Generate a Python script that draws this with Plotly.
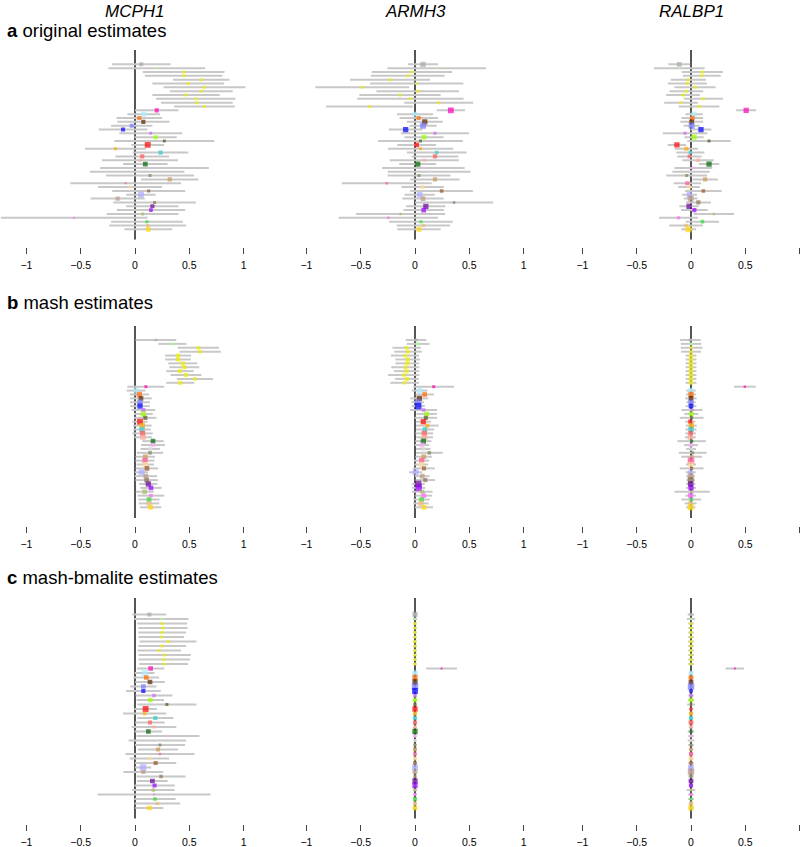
import plotly.graph_objects as go

# ---------------- data ----------------
tissues = [
    "Testis", "Pituitary",
    "Brain_Anterior_cingulate_cortex_BA24", "Brain_Caudate_basal_ganglia",
    "Brain_Cerebellar_Hemisphere", "Brain_Cerebellum", "Brain_Cortex",
    "Brain_Frontal_Cortex_BA9", "Brain_Hippocampus", "Brain_Hypothalamus",
    "Brain_Nucleus_accumbens_basal_ganglia", "Brain_Putamen_basal_ganglia",
    "Whole_Blood", "Cells_Transformed_fibroblasts", "Adipose_Subcutaneous",
    "Esophagus_Mucosa", "Skin_Sun_Exposed_Lower_leg", "Skin_Not_Sun_Exposed_Suprapubic",
    "Cells_EBV-transformed_lymphocytes", "Lung", "Small_Intestine_Terminal_Ileum",
    "Artery_Tibial", "Adipose_Visceral_Omentum", "Breast_Mammary_Tissue",
    "Artery_Aorta", "Artery_Coronary", "Thyroid", "Ovary", "Prostate", "Spleen",
    "Colon_Transverse", "Vagina", "Stomach", "Pancreas", "Muscle_Skeletal",
    "Esophagus_Muscularis", "Esophagus_Gastroesophageal_Junction",
    "Heart_Left_Ventricle", "Heart_Atrial_Appendage", "Liver", "Uterus",
    "Adrenal_Gland", "Colon_Sigmoid", "Nerve_Tibial",
]
tissue_colors = [
    "#AAAAAA", "#AAFF99",
    "#EEEE00", "#EEEE00", "#EEEE00", "#EEEE00", "#EEEE00",
    "#EEEE00", "#EEEE00", "#EEEE00", "#EEEE00", "#EEEE00",
    "#FF00BB", "#AAEEFF", "#FF6600", "#552200", "#7777FF", "#0000FF",
    "#CC66FF", "#99FF00", "#555522", "#FF0000", "#FFAA00", "#33CCCC",
    "#FF5555", "#FFAA99", "#006600", "#FFAAFF", "#DDDDDD", "#778855",
    "#CC9955", "#FF5599", "#FFDD99", "#995522", "#AAAAFF", "#BB9988",
    "#8B7355", "#660099", "#9900FF", "#AABB66", "#FF66FF", "#33DD33",
    "#EEBB77", "#FFD700",
]

genes = ["MCPH1", "ARMH3", "RALBP1"]
panel_letters = ["a", "b", "c"]
panel_titles = ["original estimates", "mash estimates", "mash-bmalite estimates"]
tick_values = [-1, -0.5, 0, 0.5, 1]
tick_labels = ["\u22121", "\u22120.5", "0", "0.5", "1"]

# --- a: original estimates ---
mcph1_orig_est = [0.058, 0.20, 0.448, 0.448, 0.61, 0.49, 0.64, 0.61, 0.47, 0.56, 0.57, 0.64,
                  0.20, 0.08, 0.04, 0.077, -0.03, -0.11, 0.145, 0.19, 0.27, 0.117, -0.18, 0.235,
                  0.067, 0.046, 0.095, 0.18, 0.02, 0.138, 0.32, -0.086, -0.046, 0.126, 0.055, -0.16,
                  0.18, 0.16, 0.147, 0.07, -0.56, 0.11, 0.117, 0.123]
mcph1_orig_ci = [0.27, 0.446, 0.376, 0.357, 0.26, 0.33, 0.377, 0.29, 0.31, 0.365, 0.33, 0.28,
                 0.20, 0.15, 0.21, 0.24, 0.19, 0.225, 0.29, 0.195, 0.46, 0.15, 0.28, 0.256,
                 0.247, 0.35, 0.205, 0.50, 0.435, 0.405, 0.264, 0.51, 0.296, 0.336, 0.135, 0.25,
                 0.38, 0.24, 0.314, 0.33, 0.675, 0.33, 0.354, 0.22]
mcph1_orig_wt = [3, 1, 2, 2, 2, 2, 2, 2, 2, 2, 2, 2,
                 3, 4, 3, 3, 3, 3, 2, 3, 2, 4.5, 2, 3,
                 3, 2, 3.5, 1, 2, 2, 3, 1, 2, 2, 4.5, 3,
                 2, 3, 2.5, 2, 1, 2, 2, 3.5]

armh3_orig_est = [0.074, 0.20, -0.028, -0.067, -0.23, 0.015, -0.485, 0.025, -0.138, -0.043, 0.218, -0.42,
                  0.33, 0.0, 0.034, 0.09, 0.074, -0.086, 0.184, 0.083, 0.05, 0.015, 0.052, 0.20,
                  0.184, 0.086, 0.025, 0.077, 0.13, 0.037, 0.184, -0.26, 0.07, 0.245, 0.043, 0.074,
                  0.36, 0.10, 0.08, -0.132, -0.245, 0.055, 0.077, 0.037]
armh3_orig_ci = [0.138, 0.454, 0.37, 0.34, 0.368, 0.43, 0.432, 0.38, 0.374, 0.49, 0.317, 0.40,
                 0.13, 0.166, 0.176, 0.166, 0.126, 0.155, 0.314, 0.18, 0.39, 0.178, 0.30, 0.275,
                 0.215, 0.318, 0.17, 0.38, 0.38, 0.29, 0.227, 0.414, 0.195, 0.288, 0.138, 0.19,
                 0.36, 0.18, 0.186, 0.41, 0.457, 0.293, 0.245, 0.20]
armh3_orig_wt = [4, 1, 2, 2, 2, 1.5, 2, 2, 2, 2, 2, 2,
                 4.5, 3.5, 3, 4, 4.5, 4, 2, 3.5, 2, 3.5, 2, 2.5,
                 3, 2, 4, 1.5, 2, 2, 3, 1.5, 3, 2.5, 4, 3.5,
                 1.5, 4, 3.5, 1.5, 1.5, 2, 2.5, 3.5]

ralbp1_orig_est = [-0.108, -0.108, 0.105, 0.10, -0.025, -0.034, 0.037, -0.043, -0.074, 0.114, -0.092, 0.074,
                   0.508, 0.028, 0.012, 0.006, 0.006, 0.092, -0.055, 0.028, 0.166, -0.13, -0.043, -0.006,
                   -0.015, 0.065, 0.166, 0.022, 0.0, -0.04, 0.13, -0.034, -0.018, 0.114, -0.015, -0.003,
                   0.068, -0.018, 0.031, 0.21, -0.114, 0.105, -0.046, -0.022]
ralbp1_orig_ci = [0.10, 0.234, 0.19, 0.174, 0.162, 0.18, 0.19, 0.155, 0.155, 0.18, 0.155, 0.188,
                  0.092, 0.079, 0.10, 0.105, 0.074, 0.095, 0.205, 0.088, 0.20, 0.085, 0.106, 0.13,
                  0.112, 0.145, 0.094, 0.174, 0.172, 0.188, 0.117, 0.126, 0.10, 0.168, 0.069, 0.063,
                  0.114, 0.089, 0.123, 0.186, 0.18, 0.153, 0.155, 0.068]
ralbp1_orig_wt = [3.5, 1, 2, 2, 2, 2, 2, 2, 2, 2, 2, 2,
                  4, 4, 3.5, 3.5, 4.5, 4, 2, 4, 2, 4, 3, 2.5,
                  2.5, 2.5, 4, 2, 2, 2, 3, 3, 3, 2.5, 4, 4.5,
                  3, 4, 3, 1.5, 2, 2.5, 2.5, 4.5]

# --- b: mash estimates ---
mcph1_mash_est = [0.193, 0.344, 0.583, 0.60, 0.396, 0.396, 0.44, 0.454, 0.414, 0.47, 0.552, 0.417,
                  0.10, 0.01, 0.04, 0.055, 0.046, 0.046, 0.077, 0.077, 0.095, 0.046, 0.067, 0.064,
                  0.07, 0.074, 0.166, 0.166, 0.141, 0.138, 0.095, 0.092, 0.095, 0.11, 0.06, 0.10,
                  0.107, 0.123, 0.147, 0.089, 0.147, 0.129, 0.129, 0.144]
mcph1_mash_ci = [0.187, 0.129, 0.19, 0.19, 0.12, 0.118, 0.133, 0.138, 0.126, 0.142, 0.166, 0.129,
                 0.17, 0.086, 0.089, 0.10, 0.092, 0.09, 0.109, 0.087, 0.103, 0.07, 0.086, 0.08,
                 0.094, 0.08, 0.10, 0.11, 0.09, 0.121, 0.089, 0.087, 0.08, 0.103, 0.06, 0.103,
                 0.103, 0.084, 0.098, 0.082, 0.123, 0.097, 0.094, 0.098]
mcph1_mash_wt = [1.5, 2, 2.5, 2.5, 3, 3, 3, 3, 3, 3, 2.5, 3,
                 2, 4, 4, 3.5, 4, 4, 3, 4, 3, 4.5, 4, 4,
                 4, 4, 3.5, 3, 3, 2.5, 3.5, 4, 4, 3.5, 4.5, 3.5,
                 3.5, 4, 3.5, 3.5, 2.5, 3.5, 3.5, 3.5]

armh3_mash_est = [0.01, 0.03, -0.077, -0.064, -0.092, -0.067, -0.07, -0.089, -0.077, -0.104, -0.074, -0.095,
                  0.172, 0.043, 0.089, 0.04, 0.025, 0.03, 0.08, 0.107, 0.10, 0.077, 0.113, 0.092,
                  0.086, 0.089, 0.077, 0.064, 0.077, 0.132, 0.08, 0.061, 0.058, 0.083, 0.006, 0.067,
                  0.095, 0.03, 0.034, 0.067, 0.08, 0.061, 0.055, 0.083]
armh3_mash_ci = [0.095, 0.104, 0.13, 0.127, 0.129, 0.113, 0.109, 0.13, 0.117, 0.144, 0.11, 0.132,
                 0.187, 0.072, 0.084, 0.083, 0.058, 0.061, 0.124, 0.094, 0.104, 0.069, 0.104, 0.083,
                 0.081, 0.078, 0.074, 0.067, 0.067, 0.123, 0.075, 0.07, 0.064, 0.10, 0.061, 0.067,
                 0.09, 0.06, 0.061, 0.094, 0.078, 0.075, 0.07, 0.083]
armh3_mash_wt = [2, 2.5, 2.5, 2.5, 2.5, 3, 3, 2.5, 3, 2.5, 3, 2.5,
                 2, 4, 3.5, 4, 4.5, 5, 2.5, 3.5, 3, 4, 3, 3.5,
                 4, 4, 4, 3.5, 3, 2.5, 3.5, 4, 4, 3, 4.5, 3.5,
                 3, 5, 5, 3, 3.5, 3.5, 4, 3.5]

ralbp1_mash_est = [-0.006, 0.0, 0.005, 0.0, 0.0, 0.0, 0.0, 0.0, 0.0, 0.0, 0.0, 0.0,
                   0.496, 0.0, 0.0, 0.0, 0.0, 0.0, 0.009, 0.003, 0.006, -0.006, 0.003, 0.0,
                   -0.003, -0.006, 0.006, 0.0, 0.0, 0.015, 0.006, 0.0, 0.0, 0.006, -0.003, -0.003,
                   -0.003, -0.003, 0.0, 0.01, -0.003, 0.003, -0.003, -0.003]
ralbp1_mash_ci = [0.095, 0.094, 0.10, 0.092, 0.05, 0.05, 0.05, 0.05, 0.05, 0.05, 0.05, 0.05,
                  0.10, 0.042, 0.045, 0.052, 0.043, 0.05, 0.097, 0.065, 0.109, 0.046, 0.05, 0.05,
                  0.048, 0.05, 0.13, 0.063, 0.045, 0.128, 0.095, 0.03, 0.046, 0.109, 0.046, 0.04,
                  0.04, 0.043, 0.046, 0.162, 0.048, 0.092, 0.055, 0.043]
ralbp1_mash_wt = [2, 2, 2, 2, 3, 3, 3, 3, 3, 3, 3, 3,
                  1.5, 4, 4, 3.5, 4, 3.5, 2, 3.5, 2, 3, 4, 4,
                  3.5, 4, 2, 3, 3, 2, 2.5, 5, 4, 2, 3.5, 4.5,
                  4.5, 4, 4, 1.5, 4, 2.5, 3.5, 4.5]

# --- c: mash-bmalite estimates ---
mcph1_bmalite_est = [0.132, 0.242, 0.25, 0.258, 0.25, 0.242, 0.304, 0.25, 0.224, 0.273, 0.27, 0.264,
                     0.144, 0.089, 0.104, 0.138, 0.077, 0.077, 0.175, 0.141, 0.294, 0.098, 0.089, 0.187,
                     0.138, 0.175, 0.123, 0.304, 0.206, 0.23, 0.212, 0.23, 0.132, 0.19, 0.074, 0.077,
                     0.24, 0.16, 0.18, 0.169, 0.175, 0.184, 0.206, 0.132]
mcph1_bmalite_ci = [0.157, 0.25, 0.23, 0.227, 0.22, 0.21, 0.262, 0.22, 0.20, 0.24, 0.237, 0.225,
                    0.126, 0.092, 0.118, 0.136, 0.121, 0.16, 0.169, 0.126, 0.273, 0.104, 0.20, 0.166,
                    0.136, 0.205, 0.126, 0.29, 0.265, 0.23, 0.186, 0.317, 0.181, 0.19, 0.075, 0.184,
                    0.225, 0.14, 0.186, 0.195, 0.52, 0.19, 0.21, 0.129]
mcph1_bmalite_wt = [3, 1.5, 2, 2, 2, 2, 2, 2, 2, 2, 2, 2,
                    3.5, 4.5, 3.5, 3.5, 3.5, 3, 2.5, 3.5, 2, 4.5, 2.5, 3,
                    3, 2, 3.5, 1.5, 2, 2, 3, 1.5, 2.5, 3, 5, 3,
                    2.5, 3.5, 3, 2.5, 1, 2.5, 2.5, 3.5]

armh3_bmalite_est = [0.0, 0.0, 0.0, 0.0, 0.0, 0.0, 0.0, 0.0, 0.0, 0.0, 0.0, 0.0,
                     0.245, 0.0, 0.0, 0.0, 0.0, 0.0, 0.0, 0.0, 0.0, 0.0, 0.0, 0.0,
                     0.0, 0.0, 0.0, 0.0, 0.0, 0.0, 0.0, 0.0, 0.0, 0.0, 0.0, 0.0,
                     0.0, 0.0, 0.0, 0.0, 0.0, 0.0, 0.0, 0.0]
armh3_bmalite_ci = [0.015, 0.02, 0.015, 0.015, 0.015, 0.015, 0.015, 0.015, 0.015, 0.015, 0.015, 0.015,
                    0.141, 0.015, 0.015, 0.015, 0.015, 0.015, 0.015, 0.015, 0.02, 0.015, 0.015, 0.015,
                    0.015, 0.015, 0.015, 0.015, 0.015, 0.015, 0.015, 0.015, 0.015, 0.015, 0.015, 0.015,
                    0.015, 0.015, 0.015, 0.02, 0.015, 0.015, 0.015, 0.015]
armh3_bmalite_wt = [4, 1.5, 2, 2, 2, 2, 2, 2, 2, 2, 2, 2,
                    1, 4, 4, 4, 5, 4.5, 2.5, 3.5, 2, 4, 3, 3,
                    3, 2.5, 4, 2.5, 2, 2, 3, 2.5, 3, 2.5, 4.5, 3.5,
                    2, 4, 4, 2, 2, 3, 3, 3.5]

ralbp1_bmalite_est = [0.0, 0.0, 0.0, 0.0, 0.0, 0.0, 0.0, 0.0, 0.0, 0.0, 0.0, 0.0,
                      0.404, 0.0, 0.0, 0.0, 0.0, 0.0, 0.0, 0.0, 0.0, 0.0, 0.0, 0.0,
                      0.0, 0.0, 0.0, 0.0, 0.0, 0.0, 0.0, 0.0, 0.0, 0.0, 0.0, 0.0,
                      0.0, 0.0, 0.0, 0.0, 0.0, 0.0, 0.0, 0.0]
ralbp1_bmalite_ci = [0.03, 0.037, 0.025, 0.025, 0.025, 0.025, 0.025, 0.025, 0.025, 0.025, 0.025, 0.025,
                     0.085, 0.02, 0.02, 0.02, 0.02, 0.02, 0.025, 0.025, 0.035, 0.02, 0.02, 0.02,
                     0.02, 0.02, 0.03, 0.025, 0.03, 0.025, 0.02, 0.02, 0.02, 0.025, 0.02, 0.02,
                     0.025, 0.02, 0.02, 0.04, 0.025, 0.025, 0.02, 0.02]
ralbp1_bmalite_wt = [2, 1.5, 2, 2, 2, 2, 2, 2, 2, 2, 2, 2,
                     1, 3.5, 3.5, 3.5, 5, 2.5, 2.5, 3.5, 1.5, 2, 3, 3,
                     3.5, 2.5, 2, 2, 2, 2, 2.5, 3, 3.5, 2.5, 4.5, 5,
                     2, 3.5, 3, 1.5, 2, 2, 3, 4]

panels = [
    [(mcph1_orig_est, mcph1_orig_ci, mcph1_orig_wt),
     (armh3_orig_est, armh3_orig_ci, armh3_orig_wt),
     (ralbp1_orig_est, ralbp1_orig_ci, ralbp1_orig_wt)],
    [(mcph1_mash_est, mcph1_mash_ci, mcph1_mash_wt),
     (armh3_mash_est, armh3_mash_ci, armh3_mash_wt),
     (ralbp1_mash_est, ralbp1_mash_ci, ralbp1_mash_wt)],
    [(mcph1_bmalite_est, mcph1_bmalite_ci, mcph1_bmalite_wt),
     (armh3_bmalite_est, armh3_bmalite_ci, armh3_bmalite_wt),
     (ralbp1_bmalite_est, ralbp1_bmalite_ci, ralbp1_bmalite_wt)],
]

# ---------------- layout geometry (pixels) ----------------
W, H = 800, 847
FONT = "Liberation Sans, Arial, Helvetica, sans-serif"
col_zero_px = [135, 415, 691]
col_dom_px = [(0, 270), (280, 550), (556, 800)]
px_per_unit = 108.6
# plot top, first row centre, last row centre, plot bottom, tick top, title y
row_geom = [
    (50, 64.3, 229.3, 239.5, 246.5, 31),
    (326, 340.0, 507.3, 518, 525.5, 302),
    (598, 614.5, 808.0, 818.5, 823.5, 577),
]
n = len(tissues)


def marker_px(w):
    return 0.7 + 1.15 * w


fig = go.Figure()
layout = dict(
    width=W, height=H, margin=dict(l=0, r=0, t=0, b=0),
    paper_bgcolor="white", plot_bgcolor="white", showlegend=False,
    font=dict(family=FONT, color="black"),
)
shapes = []
annotations = []

for r in range(3):
    ptop, yfirst, ylast, pbot, ticktop, title_y = row_geom[r]
    s = (ylast - yfirst) / (n - 1)
    top_val = -(yfirst - ptop) / s
    bot_val = (n - 1) + (pbot - ylast) / s
    for c in range(3):
        k = r * 3 + c + 1
        xa = "x" if k == 1 else f"x{k}"
        ya = "y" if k == 1 else f"y{k}"
        xkey = "xaxis" if k == 1 else f"xaxis{k}"
        ykey = "yaxis" if k == 1 else f"yaxis{k}"
        est, ci, wt = panels[r][c]
        x0p, x1p = col_dom_px[c]
        z = col_zero_px[c]
        layout[xkey] = dict(
            domain=[x0p / W, x1p / W],
            range=[(x0p - z) / px_per_unit, (x1p - z) / px_per_unit],
            anchor="free", position=1 - ticktop / H,
            showgrid=False, zeroline=False, showline=False,
            ticks="outside", ticklen=6, tickwidth=1.3, tickcolor="#444444",
            tickvals=tick_values, ticktext=tick_labels,
            tickfont=dict(size=10.5, color="black", family=FONT),
            ticklabelstandoff=3,
            fixedrange=True,
        )
        layout[ykey] = dict(
            domain=[1 - pbot / H, 1 - ptop / H],
            range=[bot_val, top_val],
            type="category", categoryorder="array", categoryarray=tissues,
            visible=False, anchor=xa, fixedrange=True,
        )
        # zero reference line
        shapes.append(dict(type="line", layer="below", xref=xa, yref=f"{ya} domain",
                           x0=0, x1=0, y0=0, y1=1,
                           line=dict(color="#555555", width=2)))
        # interval bars
        fig.add_trace(go.Scatter(
            x=est, y=tissues, xaxis=xa, yaxis=ya, mode="markers",
            marker=dict(size=1, color="rgba(0,0,0,0)"),
            error_x=dict(type="data", array=ci, symmetric=True, color="#C8C8C8",
                         thickness=2, width=0),
            hoverinfo="skip",
        ))
        # point estimates
        fig.add_trace(go.Scatter(
            x=est, y=tissues, xaxis=xa, yaxis=ya, mode="markers",
            marker=dict(symbol="square", size=[marker_px(w) for w in wt],
                        color=tissue_colors, line=dict(width=0)),
            text=tissues, hovertemplate="%{text}: %{x:.3f}<extra></extra>",
        ))
    annotations.append(dict(
        text=f"<b>{panel_letters[r]}</b> {panel_titles[r]}",
        xref="paper", yref="paper", x=5 / W, y=1 - title_y / H,
        xanchor="left", yanchor="middle", showarrow=False,
        font=dict(size=18.5, color="black", family=FONT),
    ))

for c in range(3):
    annotations.append(dict(
        text=f"<i>{genes[c]}</i>", xref="paper", yref="paper",
        x=col_zero_px[c] / W, y=1.0, xanchor="center", yanchor="top",
        showarrow=False, font=dict(size=17, color="black", family=FONT),
    ))

layout["shapes"] = shapes
layout["annotations"] = annotations
fig.update_layout(**layout)
fig.write_html(
    "out.html",
    config={"displayModeBar": False},
    post_script=("document.documentElement.style.overflow='hidden';"
                 "document.body.style.margin='0px';"
                 "document.body.style.overflow='hidden';"),
)
